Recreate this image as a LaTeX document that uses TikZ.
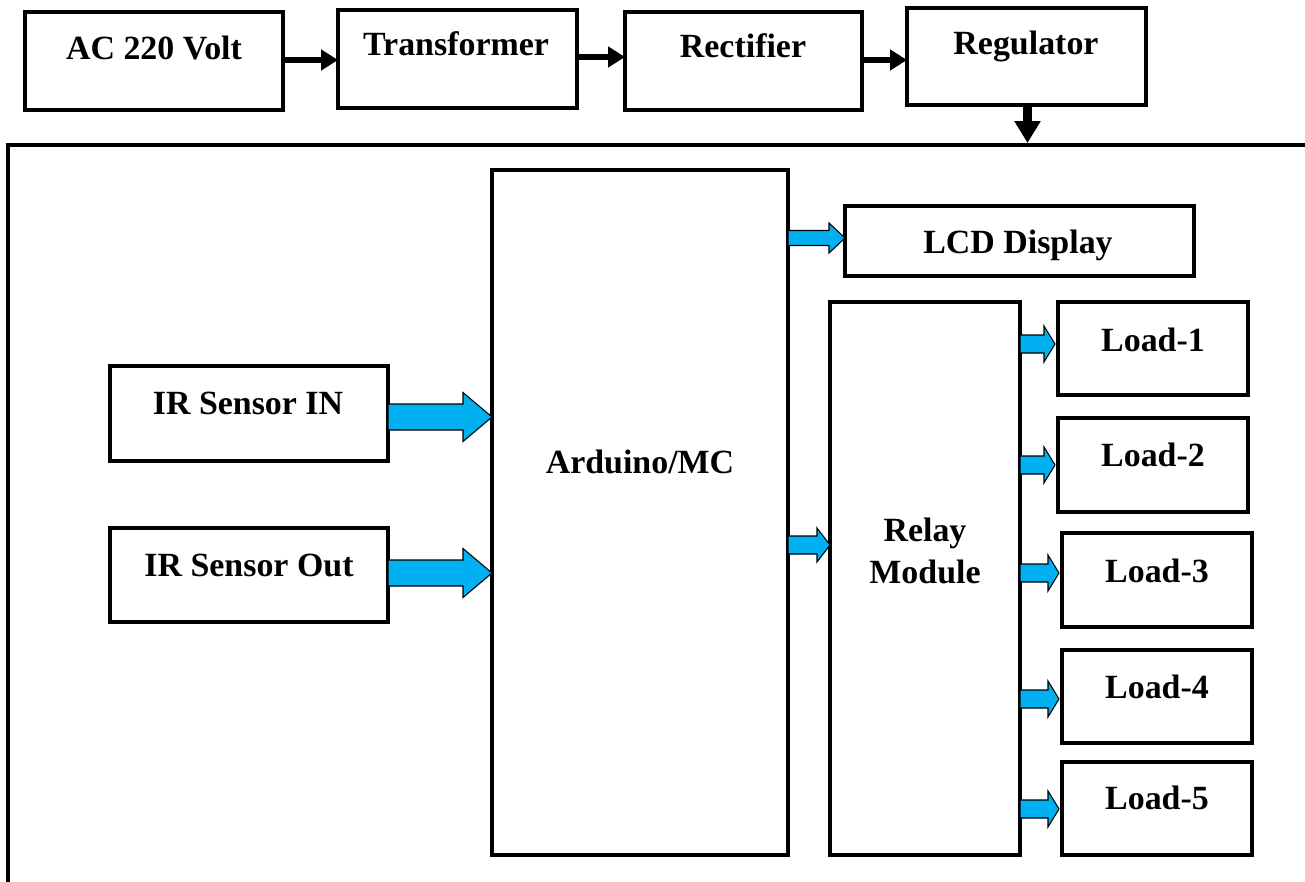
\documentclass[tikz,border=0pt]{standalone}
\usepackage{fontspec}
\setmainfont{Liberation Serif}
\usetikzlibrary{arrows.meta,calc}
\definecolor{arrblue}{RGB}{0,176,240}
\tikzset{
  box/.style 2 args={draw, line width=2.8pt, inner sep=0pt, outer sep=0pt,
    minimum width=#1*0.02cm, minimum height=#2*0.02cm},
  lbl/.style={anchor=base, inner sep=0pt, font=\bfseries\fontsize{19.3}{23}\selectfont},
  barrow/.style={draw=black, line width=0.6pt, fill=arrblue, line join=miter},
  topar/.style={line width=3.2pt, -{Triangle[length=9.6pt,width=11.4pt]}},
  downar/.style={line width=5pt, -{Triangle[length=12.5pt,width=14.2pt]}},
}
\newcommand\barr[5]{%
  \draw[barrow] ($(#1)+(0,-#3)$) -- ($(#2)+(-#5,-#3)$) -- ($(#2)+(-#5,-#4)$) -- (#2)
    -- ($(#2)+(-#5,#4)$) -- ($(#2)+(-#5,#3)$) -- ($(#1)+(0,#3)$) -- cycle;}
\begin{document}
\begin{tikzpicture}[x=0.02cm,y=-0.02cm]
\useasboundingbox (0,0) rectangle (1305,882);
% outer frame
\draw[line width=2pt] (8,882) -- (8,145) -- (1305,145);
% top chain
\node[box={258}{98}] (ac) at (154,61) {};
\node[box={239}{98}] (tr) at (457.5,59) {};
\node[box={237}{98}] (re) at (743.5,61) {};
\node[box={239}{97}] (rg) at (1026.5,56.5) {};
\node[lbl] (tac) at (154,60) {AC 220 Volt};
\node[lbl] (ttr) at (456,56) {Transformer};
\node[lbl] (tre) at (743,58) {Rectifier};
\node[lbl] (trg) at (1026,55) {Regulator};
\draw[topar] (ac.east |- 0,60) -- (tr.west |- 0,60);
\draw[topar] (tr.east |- 0,57) -- (re.west |- 0,57);
\draw[topar] (re.east |- 0,60) -- (rg.west |- 0,60);
\coordinate (frametop) at (1027.5,143);
\draw[downar] (rg.south -| frametop) -- (frametop);
% main blocks
\node[box={296}{685}] (ard) at (640,512.5) {};
\node[lbl] (tard) at (640,473) {Arduino/MC};
\node[box={349}{70}] (lcd) at (1019.5,241) {};
\node[lbl] (tlcd) at (1018,253) {LCD Display};
\node[box={190}{553}] (rel) at (925,578.5) {};
\node[lbl] (trel1) at (925,541) {Relay};
\node[lbl] (trel2) at (925,583) {Module};
\node[box={278}{95}] (irin) at (249,413.5) {};
\node[lbl] (tirin) at (248,414) {IR Sensor IN};
\node[box={278}{94}] (irout) at (249,575) {};
\node[lbl] (tirout) at (249,576) {IR Sensor Out};
\node[box={190}{93}] (l1) at (1153,348.5) {};
\node[box={190}{94}] (l2) at (1153,465) {};
\node[box={190}{94}] (l3) at (1157,580) {};
\node[box={190}{93}] (l4) at (1157,696.5) {};
\node[box={190}{93}] (l5) at (1157,808.5) {};
\node[lbl] (tl1) at (1153,351) {Load-1};
\node[lbl] (tl2) at (1153,466) {Load-2};
\node[lbl] (tl3) at (1157,582) {Load-3};
\node[lbl] (tl4) at (1157,698) {Load-4};
\node[lbl] (tl5) at (1157,809) {Load-5};
% blue arrows
\coordinate (a1s) at (irin.east |- 0,417);  \coordinate (a1e) at (ard.west |- 0,417);
\coordinate (a2s) at (irout.east |- 0,573); \coordinate (a2e) at (ard.west |- 0,573);
\coordinate (a3s) at (ard.east |- 0,238);   \coordinate (a3e) at (lcd.west |- 0,238);
\coordinate (a4s) at (ard.east |- 0,545);   \coordinate (a4e) at (rel.west |- 0,545);
\barr{a1s}{a1e}{13}{24.5}{29}
\barr{a2s}{a2e}{13}{24.5}{29}
\barr{a3s}{a3e}{7.5}{15}{16}
\barr{a4s}{a4e}{9}{17}{13}
\coordinate (b1s) at (rel.east |- 0,344); \coordinate (b1e) at ($(l1.west |- 0,344)+(-3,0)$);
\coordinate (b2s) at (rel.east |- 0,465); \coordinate (b2e) at ($(l2.west |- 0,465)+(-3,0)$);
\coordinate (b3s) at (rel.east |- 0,573); \coordinate (b3e) at ($(l3.west |- 0,573)+(-3,0)$);
\coordinate (b4s) at (rel.east |- 0,699); \coordinate (b4e) at ($(l4.west |- 0,699)+(-3,0)$);
\coordinate (b5s) at (rel.east |- 0,809); \coordinate (b5e) at ($(l5.west |- 0,809)+(-3,0)$);
\barr{b1s}{b1e}{9}{18}{11}
\barr{b2s}{b2e}{9}{18}{11}
\barr{b3s}{b3e}{9}{18}{11}
\barr{b4s}{b4e}{9}{18}{11}
\barr{b5s}{b5e}{9}{18}{11}
\end{tikzpicture}
\end{document}
